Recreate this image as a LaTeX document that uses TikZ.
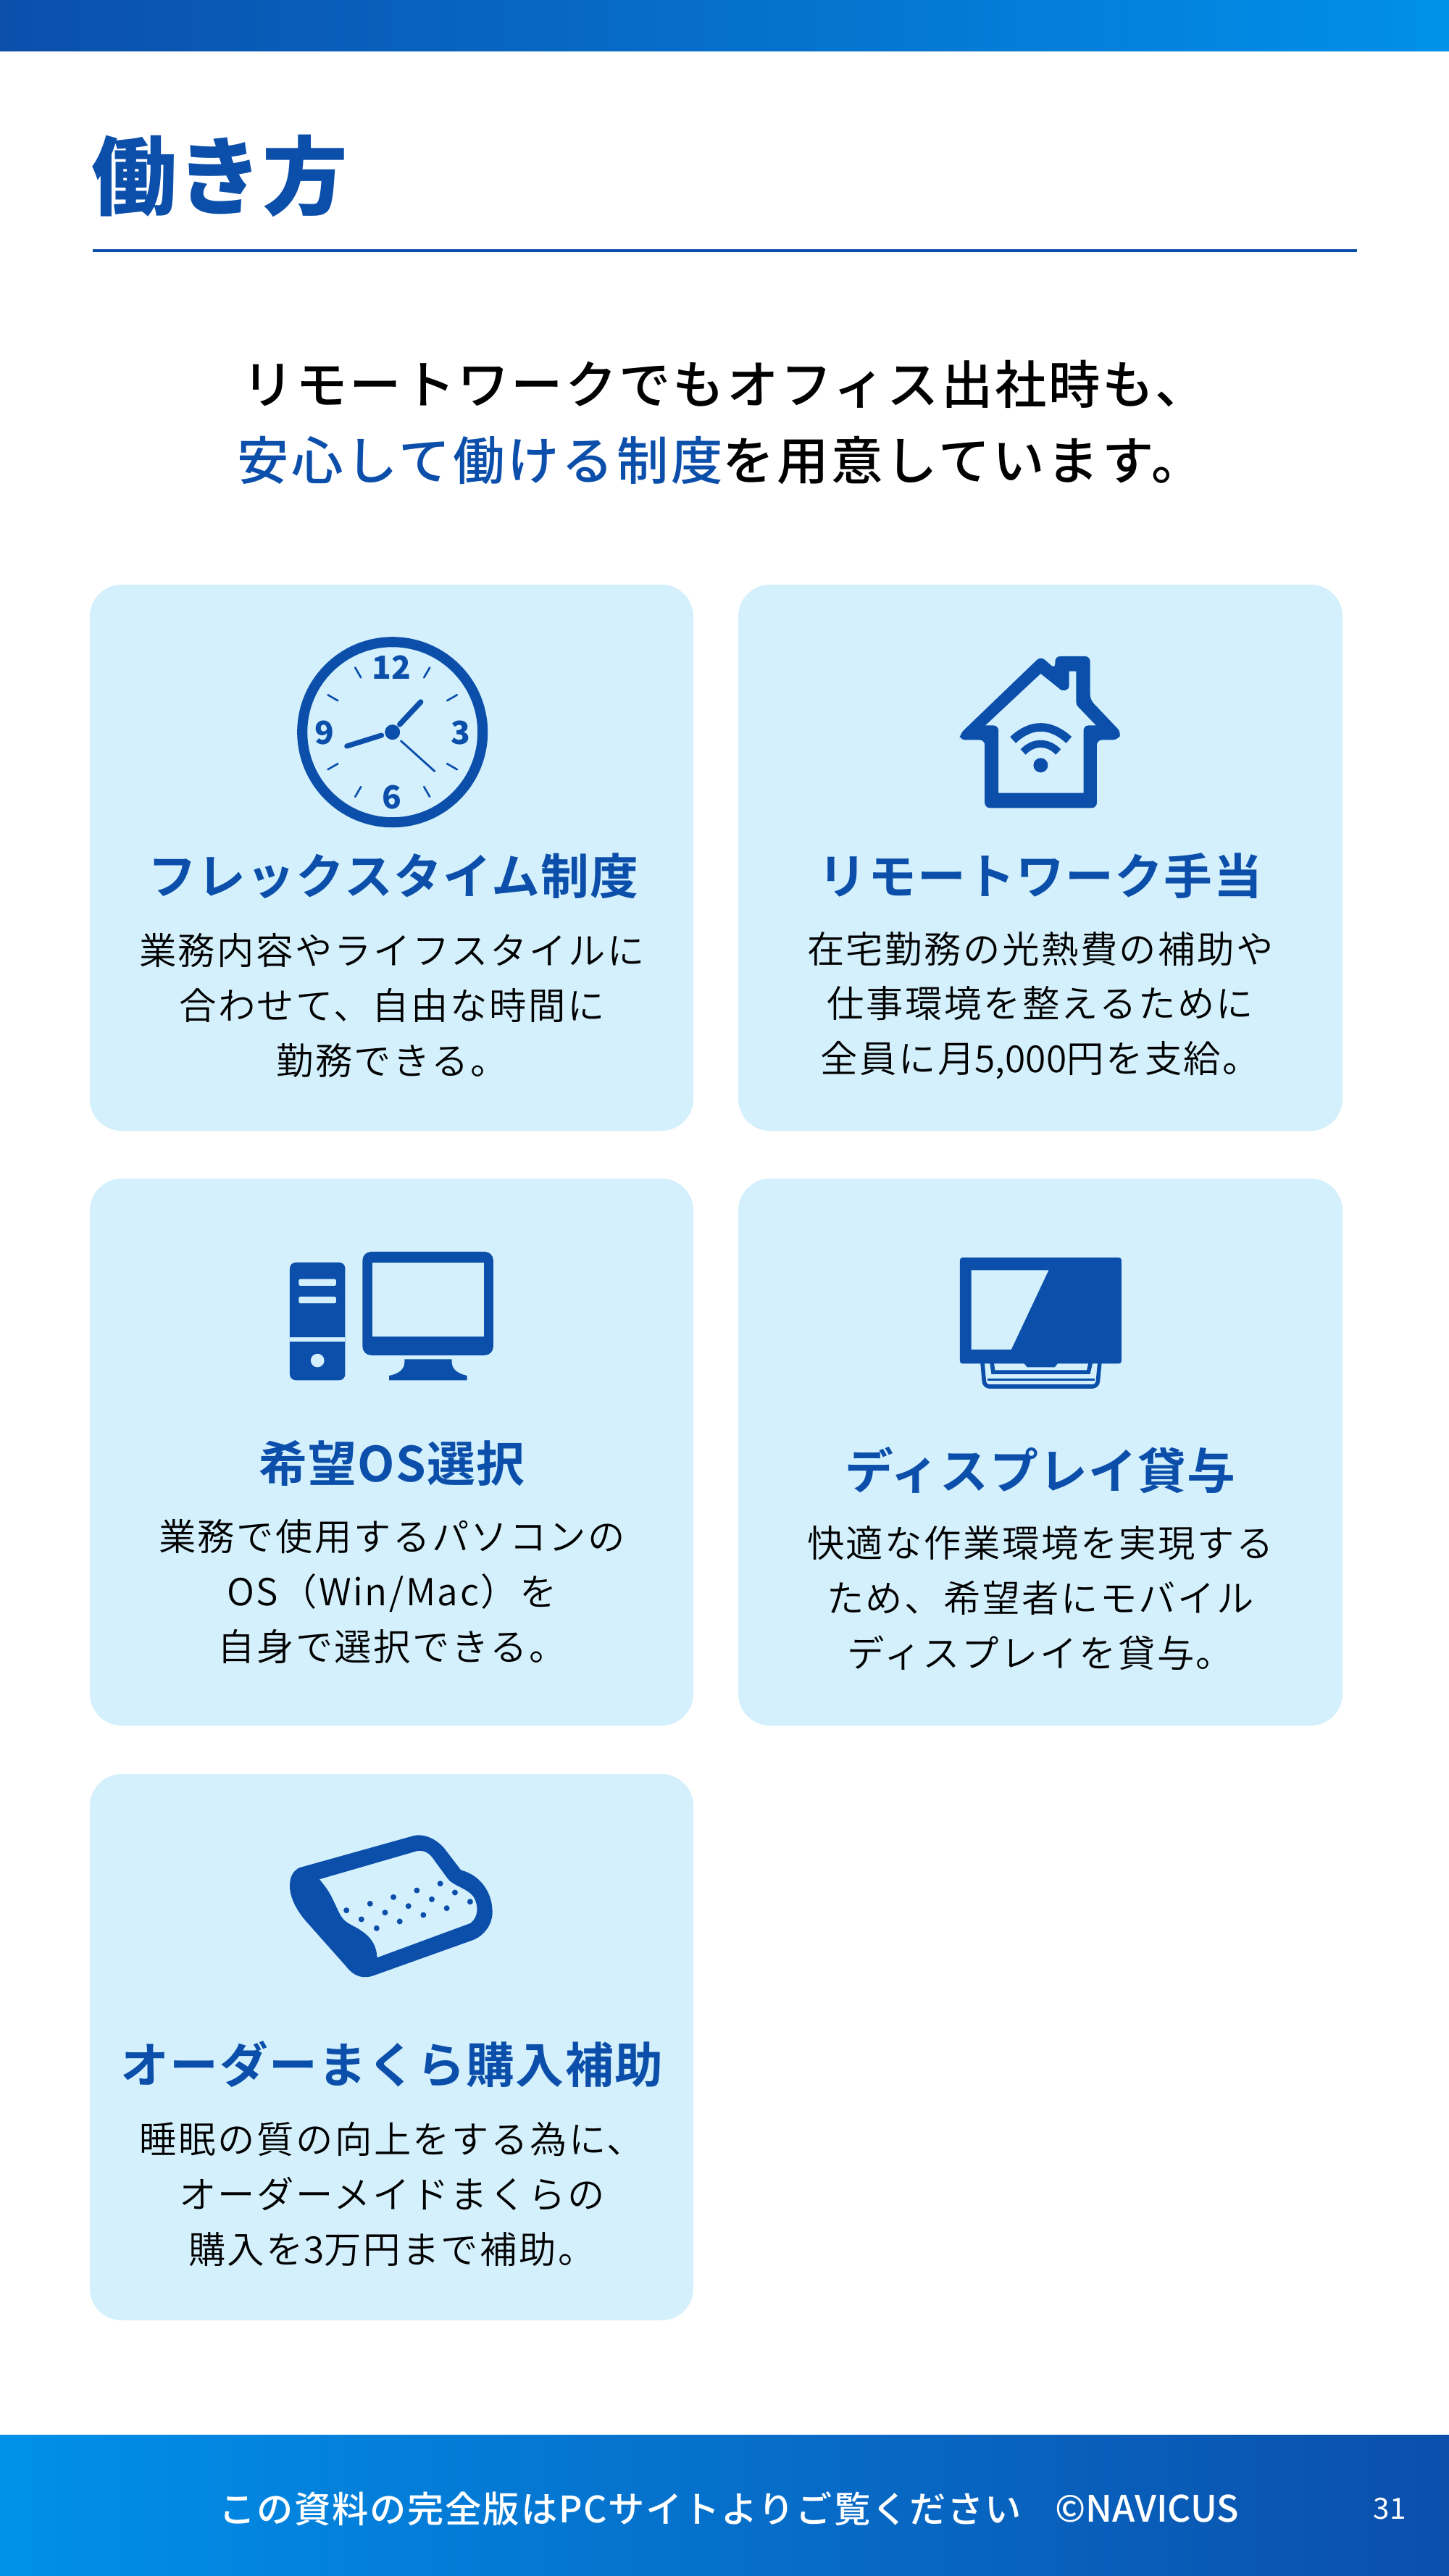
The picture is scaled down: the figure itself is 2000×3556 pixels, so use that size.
\documentclass[tikz,border=0pt]{standalone}
\usepackage{fontspec}
\setmainfont{Noto Sans CJK JP}
\newfontfamily\bodyf[LetterSpace=4.9]{Noto Sans CJK JP DemiLight}
\newfontfamily\latinf{Noto Sans CJK JP DemiLight}
\newfontfamily\headf[LetterSpace=2,BoldFont={* Bold}]{Noto Sans CJK JP}
\newfontfamily\leadf[LetterSpace=5.2]{Noto Sans CJK JP Medium}
\newfontfamily\leadtop[LetterSpace=4.1]{Noto Sans CJK JP Medium}
\newfontfamily\footf[LetterSpace=3.5]{Noto Sans CJK JP Medium}
\newfontfamily\footl{Noto Sans CJK JP Medium}
\definecolor{navy}{HTML}{0B4FAB}
\definecolor{sky}{HTML}{0090EA}
\definecolor{pale}{HTML}{D3F0FC}
\tikzset{
 card/.style={fill=pale,rounded corners=12.5pt},
 cardtitle/.style={text=navy,align=center,font=\fontsize{19pt}{24pt}\headf\bfseries},
 cardbody/.style={text=black,align=center,font=\fontsize{14.6pt}{21.5pt}\bodyf},
 iconfill/.style={fill=navy,draw=none},
 gap/.style={fill=pale,draw=none},
 clocknum/.style={text=navy,font=\fontsize{12.5pt}{13pt}\selectfont\bfseries,inner sep=0pt},
 zoomed/.style={x=0.003333cm,y=-0.003333cm},
}
\begin{document}
\begin{tikzpicture}[x=0.01cm,y=-0.01cm]
\useasboundingbox (0,0) rectangle (2000,3556);
\fill[white] (0,0) rectangle (2000,3556);
\shade[left color=navy,right color=sky] (0,0) rectangle (2000,70);
\shade[left color=sky,right color=navy] (0,3361) rectangle (2000,3556);
\node[anchor=west,inner sep=0pt,text=navy,font=\fontsize{33.5pt}{40pt}\selectfont\bfseries] (title) at (126,243) {働き方};
\draw[navy,line width=1pt] (128,346) -- (1873,346);
\node[inner sep=0pt,font=\fontsize{20.3pt}{30pt}\leadtop] (leada) at (1000,530) {リモートワークでもオフィス出社時も、};
\node[inner sep=0pt,font=\fontsize{20.3pt}{30pt}\leadf] (leadb) at (994,636) {{\color{navy}安心して働ける制度}を用意しています。};
\fill[card] (124,807) rectangle (957,1561);
\fill[card] (1019,807) rectangle (1853,1561);
\fill[card] (124,1627) rectangle (957,2382);
\fill[card] (1019,1627) rectangle (1853,2382);
\fill[card] (124,2449) rectangle (957,3203);
% clock
\begin{scope}[shift={(541.7,1010.7)}]
 \draw[navy,line width=4pt] (0,0) circle (124.5);
 \foreach \a in {30,60,120,150,210,240,300,330}
  \draw[navy,line width=0.75pt,line cap=round] (\a:87) -- (\a:103);
 \fill[navy] (0,0) circle (10.5);
 \draw[navy,line width=2.1pt,line cap=round] (10,-10.7) -- (39,-41.7);
 \draw[navy,line width=2pt,line cap=round] (-15,4.3) -- (-63,19.3);
 \draw[navy,line width=0.8pt,line cap=round] (11.7,12) -- (58.3,54);
 \node[clocknum] (n12) at (-1,-89) {12};
 \node[clocknum] (n3) at (94,1) {3};
 \node[clocknum] (n6) at (-0.7,90) {6};
 \node[clocknum] (n9) at (-93.7,1) {9};
\end{scope}
% house
\begin{scope}[shift={(1280,870)},zoomed]
 \fill[iconfill,even odd rule]
  [rounded corners=2pt] (135,430) -- (470,108) -- (530,160) -- (530,108) -- (675,108) -- (675,288) -- (805,425) -- (790,455) -- (703,455) -- (703,737) -- (238,737) -- (238,455) -- (135,455) -- cycle
  [sharp corners] (240,395) -- (470,180) -- (545,240) .. controls (560,258) and (588,250) .. (588,230) -- (588,170) -- (617,170) -- (617,295) .. controls (617,305) and (620,312) .. (625,317) -- (700,395) -- (668,395) .. controls (655,395) and (648,405) .. (648,415) -- (648,675) -- (295,675) -- (295,415) .. controls (295,405) and (285,395) .. (275,395) -- cycle;
 \draw[navy,line width=3.3pt] (355,455) .. controls (430,385) and (510,385) .. (587,455);
 \draw[navy,line width=2.9pt] (397,505) .. controls (440,460) and (500,460) .. (543,505);
 \fill[navy] (470,560) circle (30);
\end{scope}
% computer
\begin{scope}[shift={(370,1700)},zoomed]
 \fill[navy,rounded corners=2.4pt] (90,128) rectangle (320,617);
 \fill[gap] (90,438) rectangle (320,458);
 \fill[gap,rounded corners=0.5pt] (127,197) rectangle (282,225);
 \fill[gap,rounded corners=0.5pt] (127,270) rectangle (282,298);
 \fill[gap] (205,535) circle (28);
 \fill[navy,rounded corners=3.3pt] (392,84) rectangle (934,513);
 \fill[gap] (433,128) rectangle (894,437);
 \fill[navy] (566,530) -- (762,530) -- (762,545) .. controls (765,575) and (790,590) .. (825,598) -- (825,617) -- (502,617) -- (502,598) .. controls (540,590) and (563,575) .. (566,545) -- cycle;
\end{scope}
% display
\begin{scope}[shift={(1290,1710)},zoomed]
 \draw[navy,line width=1.6pt,rounded corners=2pt] (198,510) -- (207,613) -- (675,613) -- (685,510);
 \draw[navy,line width=1.6pt] (237,510) -- (243,553) -- (638,553) -- (648,510);
 \draw[navy,line width=0.7pt] (218,585) -- (665,585);
 \fill[navy] (372,510) -- (510,510) -- (510,518) -- (498,533) -- (384,533) -- (372,518) -- cycle;
 \fill[navy,rounded corners=1pt] (105,78) rectangle (775,518);
 \fill[gap] (152,130) -- (473,130) -- (318,459) -- (152,459) -- cycle;
\end{scope}
% pillow
\begin{scope}[shift={(380,2510)},zoomed]
 \fill[iconfill,even odd rule]
  (100,205) -- (575,72) .. controls (640,60) and (690,110) .. (705,130) -- (770,215) .. controls (850,235) and (905,310) .. (900,400) .. controls (895,450) and (860,490) .. (820,505) -- (400,655) .. controls (340,670) and (310,635) .. (290,610) -- (130,430) .. controls (90,385) and (60,330) .. (60,280) .. controls (60,235) and (80,215) .. (100,205) -- cycle
  (183,253) -- (590,135) .. controls (630,130) and (650,160) .. (660,175) -- (715,250) .. controls (735,280) and (800,290) .. (825,330) .. controls (845,370) and (840,410) .. (810,435) -- (422,578) .. controls (420,520) and (390,480) .. (320,445) .. controls (270,420) and (270,400) .. (240,340) .. controls (225,305) and (205,280) .. (183,253) -- cycle;
 \foreach \p in {(295,382),(393,354),(490,327),(587,299),(684,271),(357,419),(455,391),(552,364),(649,336),(745,308),(420,456),(516,428),(614,401),(711,373),(808,346)}
  \fill[navy] \p circle (12);
\end{scope}
% text
\node[cardtitle] (t1) at (543,1209) {フレックスタイム制度};
\node[cardbody] (b1) at (541,1388) {業務内容やライフスタイルに\\合わせて、自由な時間に\\勤務できる。};
\node[cardtitle] (t2) at (1436,1209) {リモートワーク手当};
\node[cardbody] (b2) at (1436,1388) {在宅勤務の光熱費の補助や\\仕事環境を整えるために\\全員に月{\latinf 5,000}円を支給。};
\node[cardtitle] (t3) at (541,2020) {希望OS選択};
\node[cardbody] (b3) at (541,2197) {業務で使用するパソコンの\\OS（Win/Mac）を\\自身で選択できる。};
\node[cardtitle] (t4) at (1436,2030) {ディスプレイ貸与};
\node[cardbody] (b4) at (1436,2206) {快適な作業環境を実現する\\ため、希望者にモバイル\\ディスプレイを貸与。};
\node[cardtitle] (t5) at (541,2850) {オーダーまくら購入補助};
\node[cardbody] (b5) at (541,3029) {睡眠の質の向上をする為に、\\オーダーメイドまくらの\\購入を{\latinf 3}万円まで補助。};
\node[anchor=west,inner sep=0pt,text=white,font=\fontsize{14.3pt}{16pt}\footf] (foot) at (302,3463) {この資料の完全版はPCサイトよりご覧ください};
\node[anchor=west,inner sep=0pt,text=white,font=\fontsize{14.3pt}{16pt}\footl] (foot2) at (1456,3463) {©NAVICUS};
\node[text=white,inner sep=0pt,font=\fontsize{11.5pt}{14pt}\selectfont] (pg) at (1918,3463) {31};
\end{tikzpicture}
\end{document}
